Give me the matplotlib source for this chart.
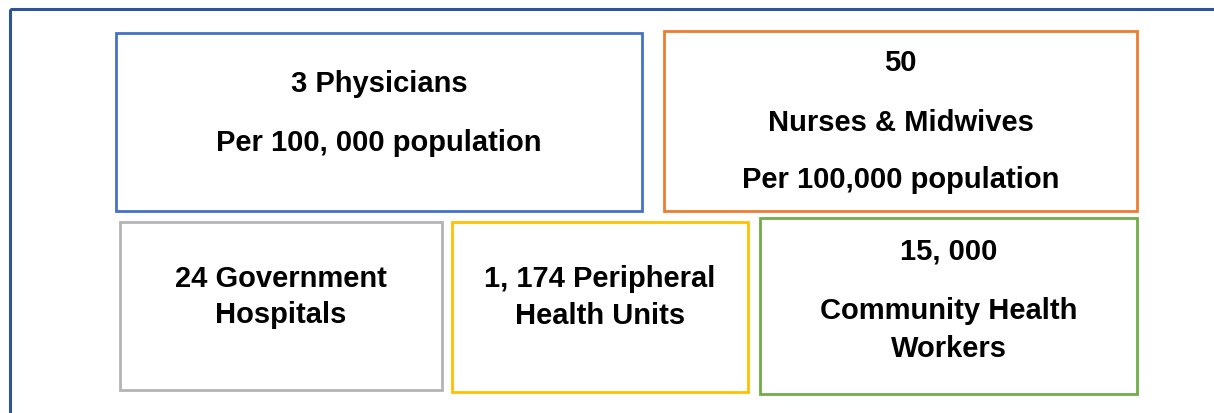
import matplotlib.pyplot as plt
from matplotlib.patches import Rectangle

# --- data: text lines in each box ---
box_lines = [
    ["3 Physicians", "Per 100, 000 population"],
    ["50", "Nurses & Midwives", "Per 100,000 population"],
    ["24 Government", "Hospitals"],
    ["1, 174 Peripheral", "Health Units"],
    ["15, 000", "Community Health", "Workers"],
]
box_colors = ["#4472C4", "#ED7D31", "#B4B4B4", "#FFC000", "#70AD47"]

# --- layout (pixel coords, y down): x0, y0, x1, y1 ---
box_rects = [
    (116, 33, 642, 211),
    (664, 31, 1137, 211),
    (120, 222, 442, 390),
    (452, 222, 748, 392),
    (760, 218, 1137, 394),
]
# baseline y of each text line (pixels)
line_y = [
    [92, 151],
    [71, 131, 188],
    [287, 323],
    [287, 324],
    [259, 319, 357],
]

W, H = 1214, 413
fig = plt.figure(figsize=(W / 100, H / 100), dpi=100)
ax = fig.add_axes([0, 0, 1, 1])
ax.set_xlim(0, W)
ax.set_ylim(H, 0)
ax.axis("off")

# outer frame, runs off the right and bottom edges
ax.add_patch(Rectangle((10, 9), W + 20, H + 20, fill=False,
                       edgecolor="#2F5597", linewidth=2.2))

for lines, col, (x0, y0, x1, y1), ys in zip(box_lines, box_colors, box_rects, line_y):
    ax.add_patch(Rectangle((x0, y0), x1 - x0, y1 - y0, fill=False,
                           edgecolor=col, linewidth=2.0))
    cx = (x0 + x1) / 2
    for txt, y in zip(lines, ys):
        ax.text(cx, y, txt, ha="center", va="baseline", fontsize=21,
                fontweight="bold", family=["Liberation Sans", "DejaVu Sans"],
                color="black")

fig.savefig("out.png", dpi=100)
